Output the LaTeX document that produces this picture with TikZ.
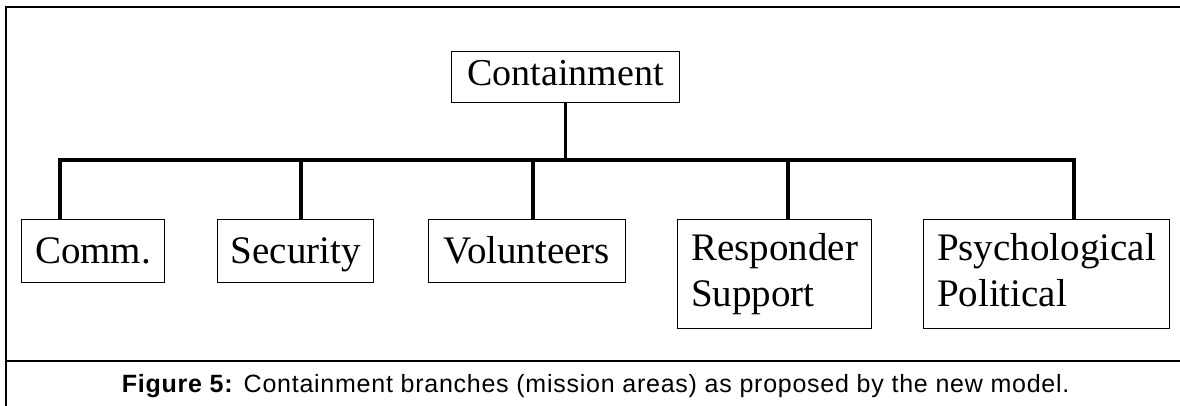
\documentclass[tikz,border=0pt]{standalone}
\usepackage{fontspec}
\setmainfont{Liberation Serif}
\newfontfamily\capfont[LetterSpace=3]{Liberation Sans}
\usetikzlibrary{calc}

\begin{document}
\begin{tikzpicture}[
    x=0.5pt, y=-0.5pt,
    base/.style={rectangle, draw, line width=0.5pt, anchor=north west, inner sep=0pt,
                 font=\fontsize{19.5}{23.3}\selectfont},
    box/.style={base, minimum height=31.2pt, text height=16.9pt, text depth=4.2pt},
    twobox/.style={base, minimum height=54.2pt, align=left,
                   execute at begin node=\rule{0pt}{16.9pt},
                   execute at end node=\rule[-4.2pt]{0pt}{4.2pt}},
    branch/.style={line width=2pt},
    stem/.style={line width=1.5pt},
    frame/.style={line width=1pt}
]
\useasboundingbox (0,0) rectangle (1180,406);
\draw[frame] (6,406) -- (6,7) -- (1180,7);
\draw[frame] (6,360.7) -- (1180,360.7);

\node[box, minimum width=114pt, minimum height=25.1pt, text height=12.7pt,
      font=\fontsize{19}{23.3}\selectfont] (top) at (451,51.5) {Containment};

\node[box, minimum width=71.8pt] (comm) at (20.7,219.3) {Comm.};
\node[box, minimum width=78pt] (sec) at (217.3,219.3) {Security};
\node[box, minimum width=98.7pt] (vol) at (427.7,219.3) {Volunteers};
\node[twobox, minimum width=96.9pt] (resp) at (677.3,219.3) {Responder\\Support};
\node[twobox, minimum width=122.7pt] (psy) at (923.3,219.3) {Psychological\\Political};

\coordinate (bar) at (0,160.5);
\coordinate (d1) at ($(comm.north west)!0.269!(comm.north east)$);
\coordinate (d2) at ($(sec.north west)!0.535!(sec.north east)$);
\coordinate (d3) at ($(vol.north west)!0.53!(vol.north east)$);
\coordinate (d4) at ($(resp.north west)!0.566!(resp.north east)$);
\coordinate (d5) at ($(psy.north west)!0.611!(psy.north east)$);

\draw[stem] (top.south) -- (top.south |- bar);
\draw[branch] (d1) -- (d1 |- bar) -- (d5 |- bar) -- (d5);
\foreach \d in {d2,d3,d4}
    \draw[branch] (\d) -- (\d |- bar);

\node[font=\capfont\fontsize{12.5}{14}\selectfont, anchor=base] (cap) at (595.7,392.3)
    {\textbf{Figure 5:} Containment branches (mission areas) as proposed by the new model.};
\end{tikzpicture}
\end{document}
